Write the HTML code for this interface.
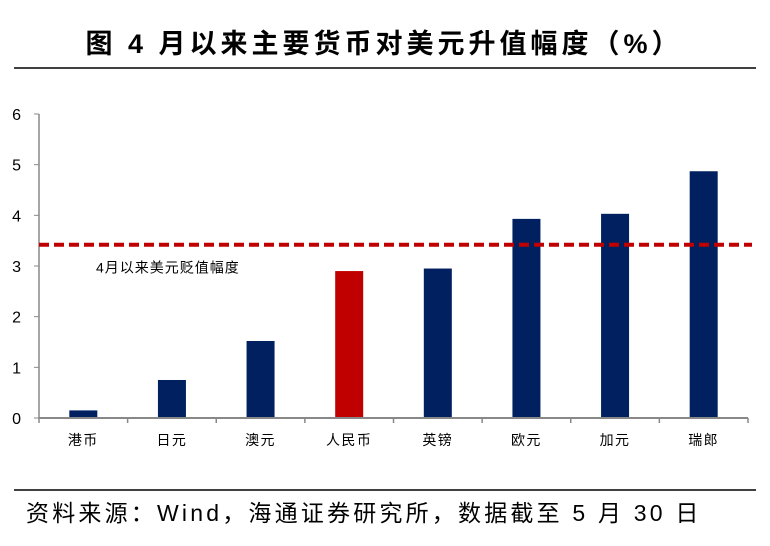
<!DOCTYPE html>
<html><head><meta charset="utf-8"><style>
body{margin:0;background:#fff;width:770px;height:541px;overflow:hidden;font-family:"Liberation Sans","Noto Sans CJK SC",sans-serif}
</style></head><body>
<svg width="770" height="541" xmlns="http://www.w3.org/2000/svg">
<text x="384" y="53" text-anchor="middle" font-size="27" font-weight="bold" letter-spacing="4" font-family="Liberation Sans, Noto Sans CJK SC, sans-serif">图  4 月以来主要货币对美元升值幅度（%）</text>
<line x1="14" y1="68" x2="756" y2="68" stroke="#000" stroke-width="1.5"/>
<g id="plot"></g>
<line x1="14" y1="490" x2="756" y2="490" stroke="#000" stroke-width="1.5"/>
<text x="26" y="521" font-size="23" letter-spacing="3.2" font-family="Liberation Sans, Noto Sans CJK SC, sans-serif">资料来源：Wind，海通证券研究所，数据截至 5 月 30 日</text>
</svg>
<script>
const categories=["港币","日元","澳元","人民币","英镑","欧元","加元","瑞郎"];
const values=[0.15,0.75,1.52,2.9,2.95,3.93,4.03,4.87];
const yTicks=[0,1,2,3,4,5,6];
const refValue=3.42;
const refLabel="4月以来美元贬值幅度";
const highlight="人民币";
const NS="http://www.w3.org/2000/svg";
const g=document.getElementById('plot');
const x0=39,x1=748,yTop=114,yBot=418,ymax=6;
const y=v=>yBot-(v/ymax)*(yBot-yTop);
const band=(x1-x0)/categories.length;
const xc=i=>x0+band*(i+0.5);
function mk(t,a){const e=document.createElementNS(NS,t);for(const k in a)e.setAttribute(k,a[k]);g.appendChild(e);return e;}
values.forEach((v,i)=>{
 const r=mk('rect',{x:xc(i)-14,y:y(v),width:28,height:yBot-y(v),fill:categories[i]===highlight?'#C00000':'#002060'});
 
 
 const t=mk('text',{x:xc(i),y:445,'text-anchor':'middle','font-size':14,'letter-spacing':1.5,fill:'#000'});
 t.textContent=categories[i];
 
 
});
const ax=mk('line',{x1:x0,y1:yTop,x2:x0,y2:yBot,stroke:'#888','stroke-width':1.5});


const bx=mk('line',{x1:x0,y1:yBot,x2:x1,y2:yBot,stroke:'#888','stroke-width':2});


for(let i=0;i<=categories.length;i++){
 const tk=mk('line',{x1:x0+band*i,y1:yBot,x2:x0+band*i,y2:yBot+5,stroke:'#888','stroke-width':1.5});
 
 
}
yTicks.forEach(v=>{
 const tk=mk('line',{x1:x0-5,y1:y(v),x2:x0,y2:y(v),stroke:'#888','stroke-width':1});
 
 
 const t=mk('text',{x:21,y:y(v)+6,'text-anchor':'end','font-size':16,fill:'#000'});
 t.textContent=v;
 
 
});
const rl=mk('line',{x1:x0,y1:y(refValue),x2:x1+4,y2:y(refValue),stroke:'#C00000','stroke-width':4,'stroke-dasharray':'10,5'});


const rt=mk('text',{x:96,y:y(refValue)+28,'font-size':14,'letter-spacing':1,fill:'#000'});
rt.textContent=refLabel;


</script>
</body></html>
